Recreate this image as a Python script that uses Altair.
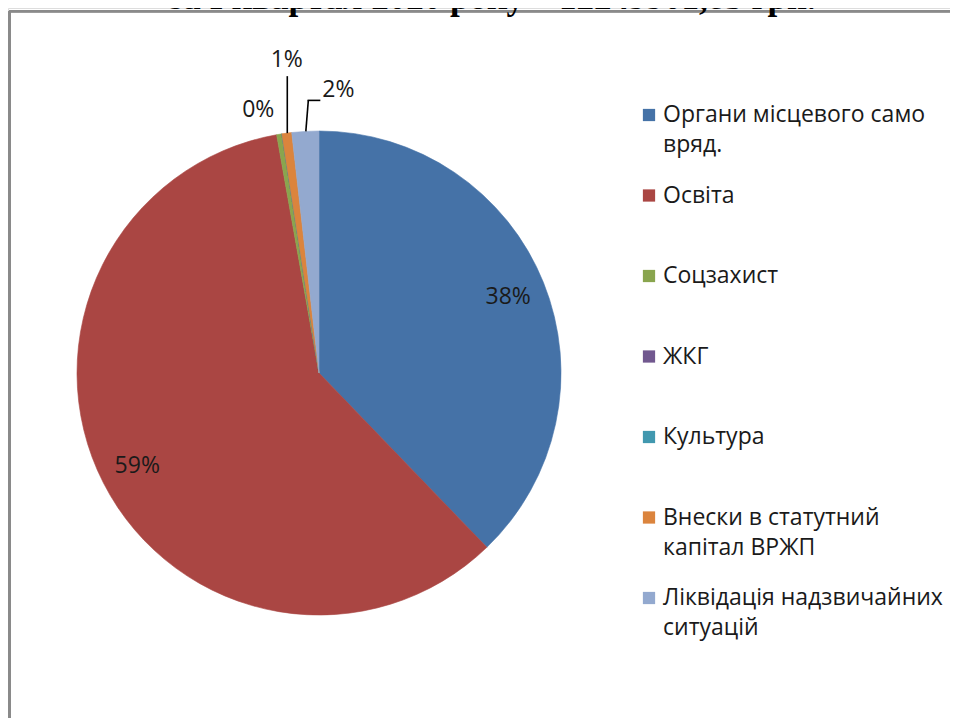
import altair as alt
import pandas as pd

# ---- data ----
categories = [
    "Органи місцевого само вряд.",
    "Освіта",
    "Соцзахист",
    "ЖКГ",
    "Культура",
    "Внески в статутний капітал ВРЖП",
    "Ліквідація надзвичайних ситуацій",
]
legend_labels = [
    "Органи місцевого само\nвряд.",
    "Освіта",
    "Соцзахист",
    "ЖКГ",
    "Культура",
    "Внески в статутний\nкапітал ВРЖП",
    "Ліквідація надзвичайних\nситуацій",
]
shares = [37.8, 59.4, 0.35, 0.0, 0.0, 0.65, 1.8]
colors = ["#4572A7", "#AA4643", "#89A54E", "#71588F", "#4198AF", "#DB843D", "#93A9CF"]
title_text = "за I квартал 2020 року – 12249901,85 грн."

df = pd.DataFrame({
    "cat": categories,
    "leg": legend_labels,
    "val": shares,
    "idx": list(range(len(categories))),
})

# ---- layout ----
W, H = 942, 710
CX, CY, R = 311, 365, 242
RI = 204
FONT = "Open Sans"
FS = 23
TXT = "#1a1a1a"

color_scale = alt.Scale(domain=categories, range=colors)

base = alt.Chart(df).transform_joinaggregate(
    total="sum(val)"
).transform_window(
    cum="sum(val)", sort=[alt.SortField("idx")], frame=[None, 0]
).transform_calculate(
    mid="2*PI*(datum.cum - datum.val/2)/datum.total",
    pct="datum.val/datum.total",
    lbl="datum.val > 0 ? format(datum.val/datum.total, '.0%') : ''",
).transform_calculate(
    ex=f"{CX} + {R}*sin(datum.mid)",
    ey=f"{CY} - {R}*cos(datum.mid)",
    ix=f"{CX} + {RI}*sin(datum.mid)",
    iy=f"{CY} - {RI}*cos(datum.mid)",
)

pie = alt.Chart(df).mark_arc(outerRadius=R, strokeWidth=0.6).encode(
    theta=alt.Theta("val:Q", stack=True),
    color=alt.Color("cat:N", scale=color_scale, legend=None),
    stroke=alt.Stroke("cat:N", scale=color_scale, legend=None),
    order=alt.Order("idx:Q"),
    x=alt.value(CX),
    y=alt.value(CY),
)

inside = base.transform_filter("datum.pct >= 0.05").mark_text(
    font=FONT, fontSize=FS, color=TXT, align="center", baseline="middle"
).encode(
    x=alt.X("ix:Q", scale=None, axis=None),
    y=alt.Y("iy:Q", scale=None, axis=None),
    text="lbl:N",
)

def small_label(cat, dx, dy, align="center"):
    return base.transform_filter(alt.datum.cat == cat).mark_text(
        font=FONT, fontSize=FS, color=TXT, align=align, baseline="middle", dx=dx, dy=dy
    ).encode(
        x=alt.X("ex:Q", scale=None, axis=None),
        y=alt.Y("ey:Q", scale=None, axis=None),
        text="lbl:N",
    )

lab0 = small_label("Соцзахист", -21, -24)
lab1 = small_label("Внески в статутний капітал ВРЖП", 0, -73)
lab2 = small_label("Ліквідація надзвичайних ситуацій", 17, -41, align="left")

def leader(cat, x1, y1, x2, y2):
    return base.transform_filter(alt.datum.cat == cat).transform_calculate(
        a=f"datum.ex + {x1}", b=f"datum.ey + {y1}",
        c=f"datum.ex + {x2}", d=f"datum.ey + {y2}",
    ).mark_rule(color="#000000", strokeWidth=1.6).encode(
        x=alt.X("a:Q", scale=None, axis=None),
        y=alt.Y("b:Q", scale=None, axis=None),
        x2="c:Q",
        y2="d:Q",
    )

lead1 = leader("Внески в статутний капітал ВРЖП", 0.5, 0, 0.5, -57)
lead2a = leader("Ліквідація надзвичайних ситуацій", 0.5, 0, 3, -31)
lead2b = leader("Ліквідація надзвичайних ситуацій", 2.2, -31, 15, -31)

# ---- legend ----
leg_y = alt.Y("idx:Q", scale=alt.Scale(domain=[0, 6], range=[114, 597]), axis=None)
leg_sq = alt.Chart(df).mark_square(size=150, opacity=1, yOffset=-7).encode(
    x=alt.value(641),
    y=leg_y,
    color=alt.Color("cat:N", scale=color_scale, legend=None),
)
leg_tx = alt.Chart(df).mark_text(
    font=FONT, fontSize=FS, color=TXT, align="left", baseline="alphabetic",
    lineBreak="\n", lineHeight=30,
).encode(
    x=alt.value(655),
    y=leg_y,
    text="leg:N",
)

# ---- frame & cut title ----
frame_l = alt.Chart(df).mark_rule(color="#8a8a8a", strokeWidth=2).encode(
    x=alt.value(1.5), y=alt.value(3.3), y2=alt.value(H)
)
frame_t = alt.Chart(df).mark_rule(color="#8a8a8a", strokeWidth=2).encode(
    x=alt.value(1.5), x2=alt.value(W), y=alt.value(3.3)
)
title = alt.Chart(pd.DataFrame({"t": [title_text]})).mark_text(
    font="Liberation Serif", fontSize=35, fontWeight="bold", color="#000000",
    align="center", baseline="alphabetic",
).encode(x=alt.value(484.5), y=alt.value(0.5), text="t:N")

chart = alt.layer(
    frame_l, frame_t, title, pie, inside, lab0, lab1, lab2, lead1, lead2a, lead2b, leg_sq, leg_tx
).resolve_scale(
    x="independent", y="independent"
).properties(
    width=W, height=H, padding=0, autosize=alt.AutoSizeParams(type="none")
).configure_view(stroke="transparent", strokeWidth=0).configure_axis(
    domain=False, ticks=False, labels=False, grid=False
).configure(background="#ffffff")

chart.save("out.html", embed_options={"renderer": "svg", "actions": False})
